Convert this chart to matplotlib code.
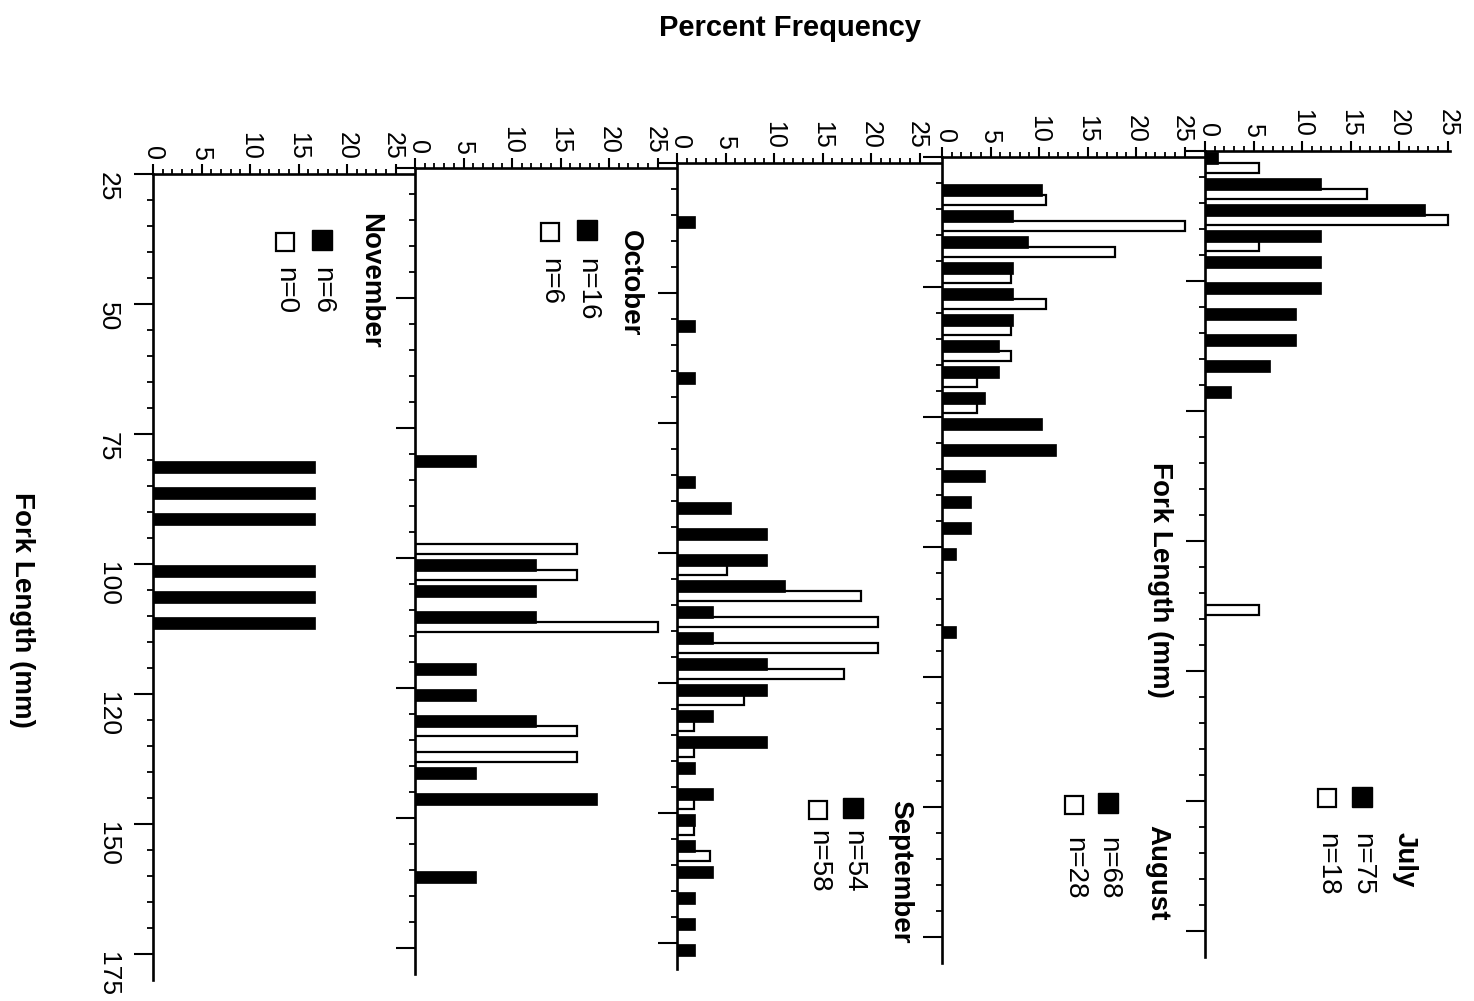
import numpy as np
import matplotlib
matplotlib.use('Agg')
import matplotlib.pyplot as plt
from matplotlib.patches import Rectangle
from matplotlib.ticker import FixedLocator
from matplotlib.transforms import ScaledTranslation

plt.rcParams['font.family'] = ['Liberation Sans', 'DejaVu Sans']

# panels from left to right as they appear on the (rotated) page
months = ['November', 'October', 'September', 'August', 'July']
n_black = [6, 16, 54, 68, 75]
n_white = [0, 6, 58, 28, 18]

# lower edge of each 5-mm fork length class, percent frequency
nov_black_bins = [80, 85, 90, 100, 105, 110]
nov_black_pct = [16.67, 16.67, 16.67, 16.67, 16.67, 16.67]
nov_white_bins = []
nov_white_pct = []

oct_black_bins = [80, 100, 105, 110, 120, 125, 130, 140, 145, 160]
oct_black_pct = [6.25, 12.5, 12.5, 12.5, 6.25, 6.25, 12.5, 6.25, 18.75, 6.25]
oct_white_bins = [95, 100, 110, 130, 135]
oct_white_pct = [16.67, 16.67, 25.0, 16.67, 16.67]

sep_black_bins = [35, 55, 65, 85, 90, 95, 100, 105, 110, 115, 120, 125, 130,
                  135, 140, 145, 150, 155, 160, 165, 170, 175]
sep_black_pct = [1.85, 1.85, 1.85, 1.85, 5.56, 9.26, 9.26, 11.11, 3.70, 3.70,
                 9.26, 9.26, 3.70, 9.26, 1.85, 3.70, 1.85, 1.85, 3.70, 1.85,
                 1.85, 1.85]
sep_white_bins = [100, 105, 110, 115, 120, 125, 130, 135, 145, 150, 155]
sep_white_pct = [5.17, 18.97, 20.69, 20.69, 17.24, 6.90, 1.72, 1.72, 1.72,
                 1.72, 3.45]

aug_black_bins = [30, 35, 40, 45, 50, 55, 60, 65, 70, 75, 80, 85, 90, 95, 100, 115]
aug_black_pct = [10.29, 7.35, 8.82, 7.35, 7.35, 7.35, 5.88, 5.88, 4.41, 10.29,
                 11.76, 4.41, 2.94, 2.94, 1.47, 1.47]
aug_white_bins = [30, 35, 40, 45, 50, 55, 60, 65, 70]
aug_white_pct = [10.71, 25.0, 17.86, 7.14, 10.71, 7.14, 7.14, 3.57, 3.57]

jul_black_bins = [25, 30, 35, 40, 45, 50, 55, 60, 65, 70]
jul_black_pct = [1.33, 12.0, 22.67, 12.0, 12.0, 12.0, 9.33, 9.33, 6.67, 2.67]
jul_white_bins = [25, 30, 35, 40, 110]
jul_white_pct = [5.56, 16.67, 25.0, 5.56, 5.56]

black_bins = [nov_black_bins, oct_black_bins, sep_black_bins, aug_black_bins, jul_black_bins]
black_pct = [nov_black_pct, oct_black_pct, sep_black_pct, aug_black_pct, jul_black_pct]
white_bins = [nov_white_bins, oct_white_bins, sep_white_bins, aug_white_bins, jul_white_bins]
white_pct = [nov_white_pct, oct_white_pct, sep_white_pct, aug_white_pct, jul_white_pct]

fl_ticks = [25, 50, 75, 100, 125, 150, 175]
fl_labels = ['25', '50', '75', '100', '120', '150', '175']
pct_ticks = [0, 5, 10, 15, 20, 25]

W, H = 1474, 1001
fig = plt.figure(figsize=(W / 100, H / 100), dpi=100)

# layout in pixels
x0 = [153, 415, 677, 942, 1205]
ytop = [174, 168, 163, 157, 151]
px_pct = 9.7
px_mm = 5.2
fl_min, fl_max = 25, 180


def fx(x):
    return x / W


def fy(y):
    return 1 - y / H


axs = []
for i, m in enumerate(months):
    if i < 4:
        xr = (x0[i + 1] - x0[i]) / px_pct
    else:
        xr = 25.3
    hpx = (fl_max - fl_min) * px_mm
    ax = fig.add_axes([fx(x0[i]), fy(ytop[i] + hpx), xr * px_pct / W, hpx / H])
    ax.set_xlim(0, xr)
    ax.set_ylim(fl_max, fl_min)

    # white bars first, black ones sit just above them
    if len(white_bins[i]):
        ax.barh(np.array(white_bins[i]) + 3.3, white_pct[i], height=1.8,
                color='white', edgecolor='black', linewidth=1.6, zorder=2)
    ax.barh(np.array(black_bins[i]) + 1.3, black_pct[i], height=2.4,
            color='black', edgecolor='black', linewidth=0.5, zorder=3)

    for s in ['right', 'bottom']:
        ax.spines[s].set_visible(False)
    for s in ['left', 'top']:
        ax.spines[s].set_linewidth(1.9)

    ax.xaxis.set_ticks_position('top')
    ax.xaxis.set_major_locator(FixedLocator(pct_ticks))
    ax.xaxis.set_minor_locator(FixedLocator([v for v in range(26) if v % 5]))
    ax.tick_params(axis='x', which='major', direction='out', length=7, width=1.5,
                   labelsize=18, pad=3, labelrotation=270)
    ax.tick_params(axis='x', which='minor', direction='out', length=3.5, width=1.3)
    # the end labels of neighbouring panels nearly touch; nudge them apart a bit
    xl = ax.get_xticklabels()
    if i < 4:
        xl[-1].set_transform(xl[-1].get_transform() +
                             ScaledTranslation(-3 / 100, 0, fig.dpi_scale_trans))
    if i > 0:
        xl[0].set_transform(xl[0].get_transform() +
                            ScaledTranslation(3 / 100, 0, fig.dpi_scale_trans))

    ax.yaxis.set_major_locator(FixedLocator(fl_ticks))
    ax.yaxis.set_minor_locator(FixedLocator([v for v in range(30, 180, 5) if v % 25]))
    ax.tick_params(axis='y', which='major', direction='out', length=14, width=1.5,
                   labelsize=19, pad=10)
    ax.tick_params(axis='y', which='minor', direction='out', length=4.5, width=1.3)
    if i == 0:
        ax.set_yticklabels(fl_labels, rotation=270)
        off = ScaledTranslation(0, -8 / 100, fig.dpi_scale_trans)
        for lab in ax.get_yticklabels():
            lab.set_transform(lab.get_transform() + off)
    else:
        ax.tick_params(axis='y', labelleft=False)
    axs.append(ax)

# legends (title, black square, white square) in page pixels
leg_title = [(370, 213), (630, 230), (900, 800), (1157, 825), (1405, 832)]
leg_black = [(322, 240), (587, 230), (853, 808), (1108, 803), (1362, 797)]
leg_white = [(285, 242), (550, 232), (818, 810), (1074, 805), (1327, 798)]
leg_text_y = [267, 258, 830, 837, 833]

for i, m in enumerate(months):
    tx, ty = leg_title[i]
    fig.text(fx(tx), fy(ty), m, rotation=270, rotation_mode='anchor',
             ha='left', va='center', fontsize=20, fontweight='bold')
    bx, by = leg_black[i]
    fig.patches.append(Rectangle((fx(bx - 10), fy(by + 10)), 20 / W, 20 / H,
                                 transform=fig.transFigure, facecolor='black',
                                 edgecolor='black', linewidth=1))
    wx, wy = leg_white[i]
    fig.patches.append(Rectangle((fx(wx - 9), fy(wy + 9)), 18 / W, 18 / H,
                                 transform=fig.transFigure, facecolor='white',
                                 edgecolor='black', linewidth=1.6))
    fig.text(fx(bx), fy(leg_text_y[i]), 'n=%d' % n_black[i], rotation=270,
             rotation_mode='anchor', ha='left', va='center', fontsize=20)
    fig.text(fx(wx), fy(leg_text_y[i]), 'n=%d' % n_white[i], rotation=270,
             rotation_mode='anchor', ha='left', va='center', fontsize=20)

fig.text(fx(790), fy(28), 'Percent Frequency', ha='center', va='center',
         fontsize=21, fontweight='bold')
fig.text(fx(1160), fy(580), 'Fork Length (mm)', rotation=270, ha='center',
         va='center', fontsize=20, fontweight='bold')
fig.text(fx(22), fy(610), 'Fork Length (mm)', rotation=270, ha='center',
         va='center', fontsize=20, fontweight='bold')

fig.savefig('out.png', dpi=100)
